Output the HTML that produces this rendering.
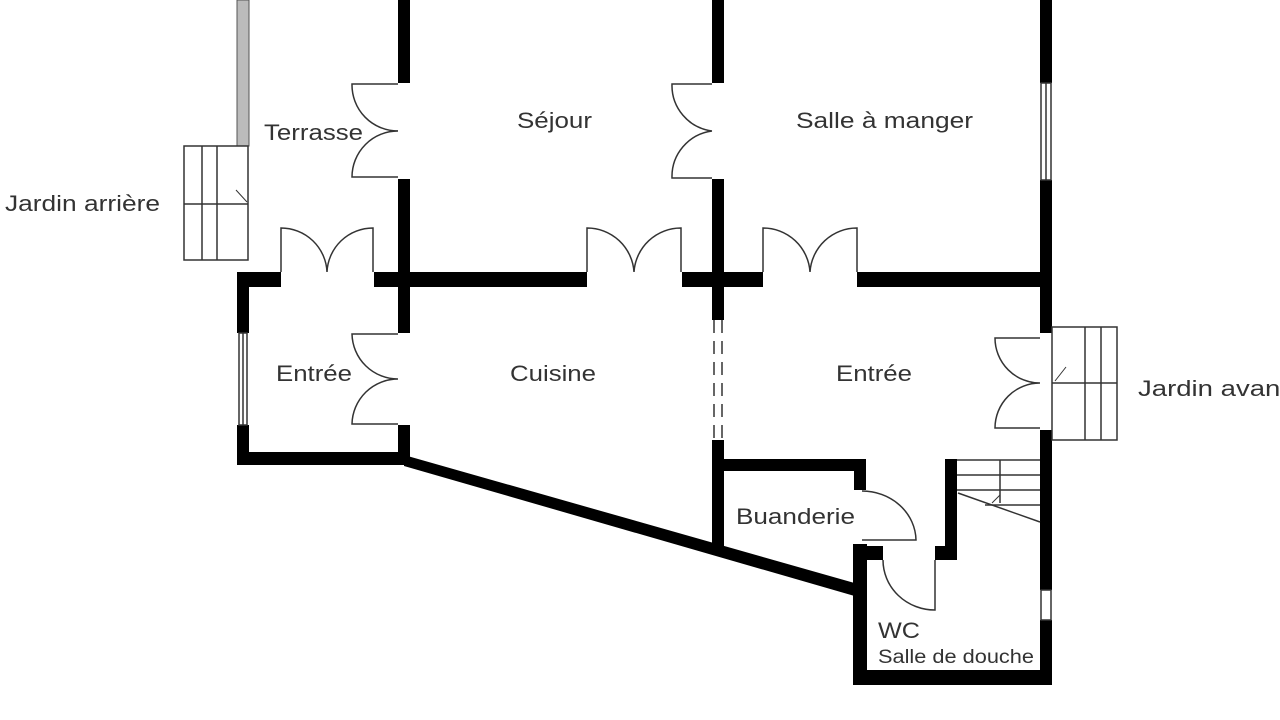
<!DOCTYPE html>
<html><head><meta charset="utf-8"><style>
html,body{margin:0;padding:0;background:#fff;width:1280px;height:720px;overflow:hidden}
svg{display:block}
text{font-family:"Liberation Sans",sans-serif;fill:#333;font-size:22px}
</style></head><body>
<svg width="1280" height="720" viewBox="0 0 1280 720">
<rect width="1280" height="720" fill="#fff"/>
<rect x="237" y="0" width="12" height="146" fill="#bbb" stroke="#555" stroke-width="1"/>
<g fill="#000">
<rect x="398" y="0" width="12" height="83"/>
<rect x="398" y="179" width="12" height="154"/>
<rect x="398" y="425" width="12" height="37"/>
<rect x="712" y="0" width="12" height="83"/>
<rect x="712" y="179" width="12" height="141"/>
<rect x="712" y="440" width="12" height="106"/>
<rect x="1040" y="0" width="12" height="83"/>
<rect x="1040" y="180" width="12" height="153"/>
<rect x="1040" y="430" width="12" height="160"/>
<rect x="1040" y="620" width="12" height="65"/>
<rect x="237" y="272" width="44" height="15"/>
<rect x="374" y="272" width="36" height="15"/>
<rect x="410" y="272" width="177" height="15"/>
<rect x="682" y="272" width="81" height="15"/>
<rect x="857" y="272" width="183" height="15"/>
<rect x="237" y="272" width="12" height="61"/>
<rect x="237" y="425" width="12" height="40"/>
<rect x="237" y="452" width="170" height="13"/>
<polygon points="404,455 858,584 858,597 404,466"/>
<rect x="712" y="459" width="154" height="12"/>
<rect x="854" y="459" width="12" height="31"/>
<rect x="853" y="544" width="14" height="141"/>
<rect x="853" y="670" width="199" height="15"/>
<rect x="867" y="546" width="16" height="14"/>
<rect x="935" y="546" width="22" height="14"/>
<rect x="945" y="459" width="12" height="101"/>
</g>
<g fill="none" stroke="#333" stroke-width="1.5">
<rect x="1041" y="83" width="10" height="97"/>
<line x1="1046" y1="83" x2="1046" y2="180"/>
<rect x="1041" y="590" width="10" height="30"/>
<rect x="239" y="333" width="8" height="92"/>
<line x1="243" y1="333" x2="243" y2="425"/>
<line x1="714" y1="320" x2="714" y2="440" stroke-dasharray="13,8"/>
<line x1="722" y1="320" x2="722" y2="440" stroke-dasharray="13,8"/>
<path d="M398,84 H352 A46,46 0 0 0 398,131 M398,177 H352 A46,46 0 0 1 398,131"/>
<path d="M712,84 H672 A46,46 0 0 0 712,131 M712,178 H672 A46,46 0 0 1 712,131"/>
<path d="M398,334 H352 A46,46 0 0 0 398,379 M398,424 H352 A46,46 0 0 1 398,379"/>
<path d="M1040,338 H995 A45,45 0 0 0 1040,383 M1040,428 H995 A45,45 0 0 1 1040,383"/>
<path d="M281,272 V228 A46,46 0 0 1 327,272 M373,272 V228 A46,46 0 0 0 327,272"/>
<path d="M587,272 V228 A47,47 0 0 1 634,272 M681,272 V228 A47,47 0 0 0 634,272"/>
<path d="M763,272 V228 A47,47 0 0 1 810,272 M857,272 V228 A47,47 0 0 0 810,272"/>
<path d="M862,540 H916 A54,50 0 0 0 862,491"/>
<path d="M935,560 V610 A52,50 0 0 1 883,560"/>
<rect x="184" y="146" width="64" height="114"/>
<line x1="184" y1="204" x2="248" y2="204"/>
<line x1="202" y1="146" x2="202" y2="260"/>
<line x1="217" y1="146" x2="217" y2="260"/>
<path d="M236,190 L247,202" stroke-width="1"/>
<rect x="1052" y="327" width="65" height="113"/>
<line x1="1052" y1="383" x2="1117" y2="383"/>
<line x1="1085" y1="327" x2="1085" y2="440"/>
<line x1="1101" y1="327" x2="1101" y2="440"/>
<path d="M1055,381 L1066,367" stroke-width="1"/>
<line x1="957" y1="460" x2="1040" y2="460"/>
<line x1="957" y1="475" x2="1040" y2="475"/>
<line x1="957" y1="490" x2="1040" y2="490"/>
<line x1="985" y1="505" x2="1040" y2="505"/>
<line x1="1000" y1="460" x2="1000" y2="503"/>
<line x1="958" y1="493" x2="1040" y2="522"/>
<path d="M1000,495 L992,503" stroke-width="1"/>
</g>
<text x="264" y="140" textLength="99" lengthAdjust="spacingAndGlyphs">Terrasse</text>
<text x="517" y="128" textLength="75" lengthAdjust="spacingAndGlyphs">Séjour</text>
<text x="796" y="128" textLength="177" lengthAdjust="spacingAndGlyphs">Salle à manger</text>
<text x="5" y="211" textLength="155" lengthAdjust="spacingAndGlyphs">Jardin arrière</text>
<text x="276" y="381" textLength="76" lengthAdjust="spacingAndGlyphs">Entrée</text>
<text x="510" y="381" textLength="86" lengthAdjust="spacingAndGlyphs">Cuisine</text>
<text x="836" y="381" textLength="76" lengthAdjust="spacingAndGlyphs">Entrée</text>
<text x="1138" y="396" textLength="150" lengthAdjust="spacingAndGlyphs">Jardin avant</text>
<text x="736" y="524" textLength="119" lengthAdjust="spacingAndGlyphs">Buanderie</text>
<text x="878" y="638" textLength="42" lengthAdjust="spacingAndGlyphs">WC</text>
<text x="878" y="663" style="font-size:19px" textLength="156" lengthAdjust="spacingAndGlyphs">Salle de douche</text>
</svg>
</body></html>
